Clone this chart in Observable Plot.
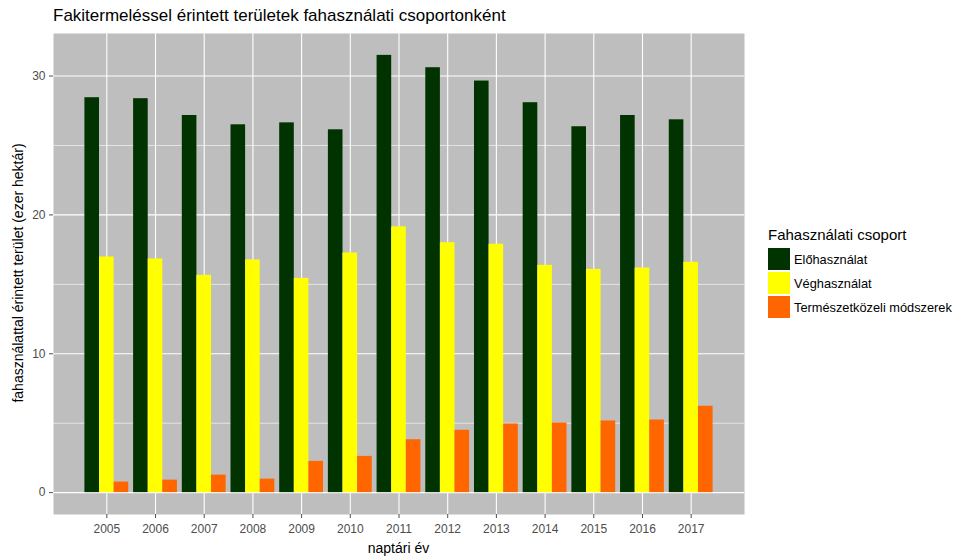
<!DOCTYPE html>
<html>
<head>
<meta charset="utf-8">
<script src="https://cdn.jsdelivr.net/npm/d3@7"></script>
<script src="https://cdn.jsdelivr.net/npm/@observablehq/plot@0.6"></script>
<style>
  html, body { margin: 0; padding: 0; background: white; }
  #wrap { position: relative; width: 955px; height: 557px; font-family: "Liberation Sans", Arial, sans-serif; overflow: hidden; }
  #wrap svg { position: absolute; left: 0; top: 0; }
  .title { position: absolute; left: 53px; top: 6px; font-size: 17px; line-height: 20px; color: #000; white-space: nowrap; }
  .ytitle { position: absolute; left: 18px; top: 273px; transform: translate(-50%, -50%) rotate(-90deg); font-size: 14px; line-height: 16px; white-space: nowrap; color: #000; }
  .xtitle { position: absolute; left: 398.5px; top: 548px; transform: translate(-50%, -50%); font-size: 14px; line-height: 16px; white-space: nowrap; color: #000; }
  .legend { position: absolute; left: 768px; top: 226px; }
  .legend .lt { font-size: 15px; line-height: 18px; margin-bottom: 3px; white-space: nowrap; }
  .legend .row { display: flex; align-items: center; height: 24px; }
  .legend .key { width: 22px; height: 22px; margin-right: 4px; }
  .legend .lab { font-size: 12.8px; white-space: nowrap; }
</style>
</head>
<body>
<div id="wrap"></div>
<script>
const years = [2005, 2006, 2007, 2008, 2009, 2010, 2011, 2012, 2013, 2014, 2015, 2016, 2017];
const groups = ["Előhasználat", "Véghasználat", "Természetközeli módszerek"];
const groupColors = ["#003300", "#FFFF00", "#FF6600"];
const eloValues  = [28.44, 28.37, 27.16, 26.49, 26.63, 26.13, 31.49, 30.60, 29.64, 28.08, 26.35, 27.16, 26.85];
const vegValues  = [16.97, 16.83, 15.65, 16.76, 15.43, 17.26, 19.14, 18.00, 17.89, 16.37, 16.08, 16.18, 16.59];
const termValues = [0.76, 0.90, 1.26, 0.97, 2.25, 2.61, 3.81, 4.49, 4.94, 5.01, 5.16, 5.23, 6.22];
const yTicks = [0, 10, 20, 30];
const yMinor = [5, 15, 25];
const titleText = "Fakitermeléssel érintett területek fahasználati csoportonként";
const xTitle = "naptári év";
const yTitle = "fahasználattal érintett terület (ezer hektár)";
const legendTitle = "Fahasználati csoport";

// dodge: total group width 0.9, each bar 0.3
const series = [eloValues, vegValues, termValues];
const barW = 0.9 / groups.length;
const rows = [];
years.forEach((yr, i) => {
  series.forEach((vals, g) => {
    const x1 = yr - 0.45 + g * barW;
    rows.push({year: yr, group: groups[g], value: vals[i], x1, x2: x1 + barW});
  });
});

// ggplot-like expansion (5% continuous)
const xMin = years[0] - 0.45, xMax = years[years.length - 1] + 0.45;
const xPad = (xMax - xMin) * 0.05;
const yMax = d3.max(rows, d => d.value);
const yPad = yMax * 0.05;

const chart = Plot.plot({
  width: 955,
  height: 557,
  marginLeft: 53,
  marginRight: 211,
  marginTop: 33,
  marginBottom: 43,
  style: { fontFamily: "'Liberation Sans', Arial, sans-serif", background: "transparent" },
  x: { domain: [xMin - xPad, xMax + xPad] },
  y: { domain: [-yPad, yMax + yPad] },
  color: { domain: groups, range: groupColors },
  marks: [
    Plot.frame({ fill: "#bebebe", stroke: null }),
    Plot.gridY(yMinor, { stroke: "white", strokeOpacity: 1, strokeWidth: 0.6 }),
    Plot.gridY(yTicks, { stroke: "white", strokeOpacity: 1, strokeWidth: 1.1 }),
    Plot.gridX(years, { stroke: "white", strokeOpacity: 1, strokeWidth: 1.1 }),
    Plot.rect(rows, { x1: "x1", x2: "x2", y1: 0, y2: "value", fill: "group" }),
    Plot.axisX(years, { tickFormat: d => String(d), tickSize: 4, tickPadding: 6, fontSize: 12, color: "#4d4d4d", label: null }),
    Plot.axisY(yTicks, { tickSize: 4, tickPadding: 4, fontSize: 12, color: "#4d4d4d", label: null })
  ]
});

const wrap = document.getElementById("wrap");
wrap.appendChild(chart);

const t = document.createElement("div"); t.className = "title"; t.textContent = titleText; wrap.appendChild(t);
const yt = document.createElement("div"); yt.className = "ytitle"; yt.textContent = yTitle; wrap.appendChild(yt);
const xt = document.createElement("div"); xt.className = "xtitle"; xt.textContent = xTitle; wrap.appendChild(xt);

const lg = document.createElement("div"); lg.className = "legend";
const lt = document.createElement("div"); lt.className = "lt"; lt.textContent = legendTitle; lg.appendChild(lt);
groups.forEach((g, i) => {
  const r = document.createElement("div"); r.className = "row";
  const k = document.createElement("div"); k.className = "key"; k.style.background = groupColors[i];
  const l = document.createElement("div"); l.className = "lab"; l.textContent = g;
  r.appendChild(k); r.appendChild(l); lg.appendChild(r);
});
wrap.appendChild(lg);
</script>
</body>
</html>
